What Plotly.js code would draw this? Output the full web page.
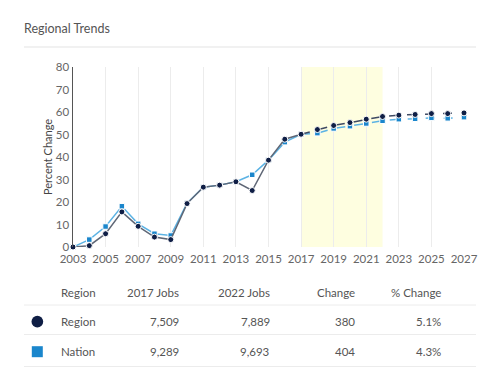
<!DOCTYPE html>
<html><head><meta charset="utf-8">
<script src="https://cdn.plot.ly/plotly-3.0.1.min.js"></script>
<style>html,body{margin:0;padding:0;background:#fff;}#chart{width:500px;height:377px;}</style>
</head><body><div id="chart"></div>
<script>
var years = [2003,2004,2005,2006,2007,2008,2009,2010,2011,2012,2013,2014,2015,2016,2017,2018,2019,2020,2021,2022,2023,2024,2025,2026,2027];
var region = [0,0.6,5.9,15.6,9.2,4.4,3.3,19.3,26.6,27.5,29.0,25.1,38.6,47.9,50.1,52.2,54.0,55.3,56.8,58.0,58.6,58.9,59.3,59.3,59.6];
var nation = [0,3.3,9.1,18.1,10.3,5.9,5.1,19.5,26.6,27.5,29.0,32.1,38.6,46.6,50.1,50.6,52.7,53.7,54.9,56.1,56.8,57.0,57.4,57.2,57.7];
var lastActualYear = 2017;
var shadeStart = 2017, shadeEnd = 2022;
var tableHeader = ["Region","2017 Jobs","2022 Jobs","Change","% Change"];
var tableNames = ["Region","Nation"];
var jobs2017 = ["7,509","9,289"];
var jobs2022 = ["7,889","9,693"];
var changeVals = ["380","404"];
var pctChange = ["5.1%","4.3%"];

var W=500,H=377,L=73,R=36,T=67,B=130;
var PW=W-L-R, PH=H-T-B;
function px(x){return (x-L)/PW;}
function py(y){return (H-B-y)/PH;}

function split(arr, hist){
  var xs=[],ys=[];
  for(var i=0;i<years.length;i++){
    if(hist ? years[i]<=lastActualYear : years[i]>=lastActualYear){xs.push(years[i]);ys.push(arr[i]);}
  }
  return {x:xs,y:ys};
}
var regionCol='#0f1e45', regionLine='#5f6776', nationCol='#1a86cc', nationLine='#5cb3e4';
function tr(arr,hist,lineCol,dash,mk,mkCol){
  var d=split(arr,hist);
  return {x:d.x,y:d.y,type:'scatter',mode:'lines+markers',cliponaxis:false,hoverinfo:'skip',showlegend:false,
    line:{color:lineCol,width:1.5,dash:dash},
    marker:{symbol:mk,size:mk==='square'?5.5:6,color:mkCol,line:{color:'#fff',width:1}}};
}
var data=[
  tr(nation,true,nationLine,'solid','square',nationCol),
  tr(nation,false,nationLine,'dash','square',nationCol),
  tr(region,true,regionLine,'solid','circle',regionCol),
  tr(region,false,'#3f4a63','dash','circle',regionCol)
];

var fontFam='Lato, "Open Sans", sans-serif';
var txt='#555';
var shapes=[
  {type:'rect',xref:'x',yref:'paper',x0:shadeStart,x1:shadeEnd,y0:0,y1:1,fillcolor:'#fefee0',line:{width:0},layer:'below'},
  {type:'line',xref:'paper',yref:'paper',x0:px(24),x1:px(476),y0:py(47),y1:py(47),line:{color:'#e3e3e3',width:1}},
  {type:'line',xref:'paper',yref:'paper',x0:px(24),x1:px(476),y0:py(305),y1:py(305),line:{color:'#ececec',width:1}},
  {type:'line',xref:'paper',yref:'paper',x0:px(24),x1:px(476),y0:py(334.5),y1:py(334.5),line:{color:'#ececec',width:1}},
  {type:'line',xref:'paper',yref:'paper',x0:px(24),x1:px(476),y0:py(366.5),y1:py(366.5),line:{color:'#ececec',width:1}},
  {type:'circle',xref:'paper',yref:'paper',x0:px(31.5),x1:px(43.2),y0:py(327.5),y1:py(315.8),fillcolor:regionCol,line:{width:0}},
  {type:'rect',xref:'paper',yref:'paper',x0:px(31.8),x1:px(42.8),y0:py(357.2),y1:py(346.2),fillcolor:nationCol,line:{width:0}}
];

var annotations=[];
var colRight=[null,181,272,357,443];
function cell(text,col,yPix){
  var a={text:text,xref:'paper',yref:'paper',showarrow:false,font:{family:fontFam,size:11.5,color:txt},yanchor:'middle',y:py(yPix)};
  if(col===0){a.x=px(59);a.xanchor='left';}else{a.x=px(colRight[col]);a.xanchor='right';}
  annotations.push(a);
}
for(var c=0;c<tableHeader.length;c++) cell(tableHeader[c],c,292.3);
var rowsY=[321.7,351.7];
for(var r=0;r<tableNames.length;r++){
  cell(tableNames[r],0,rowsY[r]);
  cell(jobs2017[r],1,rowsY[r]);
  cell(jobs2022[r],2,rowsY[r]);
  cell(changeVals[r],3,rowsY[r]);
  cell(pctChange[r],4,rowsY[r]);
}

var layout={
  width:W,height:H,margin:{l:L,r:R,t:T,b:B},
  paper_bgcolor:'#fff',plot_bgcolor:'rgba(0,0,0,0)',
  font:{family:fontFam,color:txt},
  title:{text:'Regional Trends',xref:'container',yref:'container',x:24/W,xanchor:'left',y:1-28.5/H,yanchor:'middle',font:{family:fontFam,size:12.5,color:'#555'}},
  xaxis:{range:[2003,2027],tickvals:[2003,2005,2007,2009,2011,2013,2015,2017,2019,2021,2023,2025,2027],ticktext:['2003','2005','2007','2009','2011','2013','2015','2017','2019','2021','2023','2025','2027'],
    showgrid:true,gridcolor:'#ececec',gridwidth:1,zeroline:false,showline:false,ticks:'',ticklabelstandoff:3,tickfont:{family:fontFam,size:11.5,color:'#666'},fixedrange:true},
  yaxis:{range:[0,80],dtick:10,showgrid:false,zeroline:false,showline:true,linecolor:'#555',linewidth:1.5,ticks:'',
    tickfont:{family:fontFam,size:11.5,color:'#666'},
    title:{text:'Percent Change',font:{family:fontFam,size:11,color:'#444'},standoff:1},fixedrange:true},
  shapes:shapes,annotations:annotations,hovermode:false
};
Plotly.newPlot('chart',data,layout,{displayModeBar:false,staticPlot:true});
</script></body></html>
